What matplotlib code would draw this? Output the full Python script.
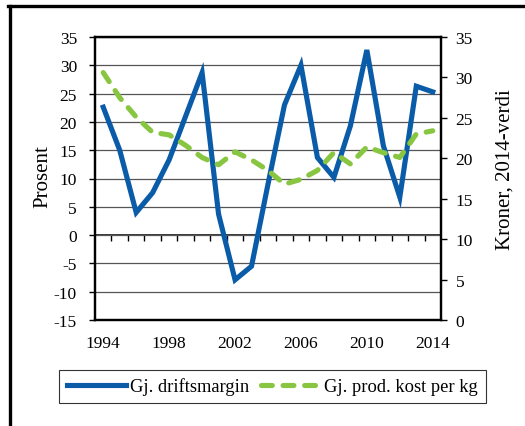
import matplotlib
matplotlib.use("Agg")
import matplotlib.pyplot as plt
from matplotlib.lines import Line2D

# data
years = list(range(1994, 2015))
driftsmargin = [22.6, 15.0, 4.0, 7.5, 13.3, 21.0, 28.7, 3.7, -7.9, -5.5, 9.0,
                23.0, 30.0, 13.7, 10.2, 19.3, 32.7, 15.8, 6.7, 26.3, 25.3]
prodkost = [30.6, 27.5, 25.1, 23.2, 22.9, 21.6, 20.1, 19.2, 20.8, 19.8, 18.5,
            16.8, 17.4, 18.5, 20.7, 19.3, 21.4, 20.7, 20.1, 23.0, 23.4]
year_labels = ["1994", "1998", "2002", "2006", "2010", "2014"]

blue = "#0A5BA8"
green = "#88C540"
serif = ["Liberation Serif", "DejaVu Serif"]
plt.rcParams["font.family"] = serif
plt.rcParams["axes.unicode_minus"] = False

fig = plt.figure(figsize=(5.25, 4.27), dpi=100)
ax = fig.add_axes([95 / 525, 1 - 321 / 427, 346 / 525, 283 / 427])
ax2 = ax.twinx()

x = list(range(len(years)))
ax.plot(x, driftsmargin, color=blue, lw=3.7, solid_joinstyle="miter",
        label="Gj. driftsmargin", zorder=3)
ax2.plot(x, prodkost, color=green, lw=3.7, dashes=(2.1, 2.1),
         dash_capstyle="round", label="Gj. prod. kost per kg", zorder=3)

ax.set_xlim(-0.5, len(years) - 0.5)
ax.set_ylim(-15, 35)
ax.set_yticks(range(-15, 36, 5))
ax2.set_ylim(0, 35)
ax2.set_yticks(range(0, 36, 5))

ax.yaxis.grid(True, color="#555555", lw=0.9)
ax.set_axisbelow(True)

# year labels at the bottom, no tick marks
ax.set_xticks([years.index(int(y)) for y in year_labels])
ax.set_xticklabels(year_labels)
ax.tick_params(axis="x", length=0, pad=11, labelsize=12.5)
ax.tick_params(axis="y", direction="out", length=4.5, width=1, pad=8.5,
               labelsize=12.5)
ax2.tick_params(axis="y", direction="out", length=4.5, width=1, pad=6,
                labelsize=12.5)

# category axis crossing at zero with tick marks between years
sec = ax.secondary_xaxis(15 / 50)
sec.set_xticks([i + 0.5 for i in x[:-1]])
sec.set_xticklabels([])
sec.tick_params(direction="out", length=4, width=1)
sec.spines["bottom"].set_linewidth(1.1)

for a in (ax, ax2):
    for s in a.spines.values():
        s.set_linewidth(1.6)
        s.set_color("black")

ax.set_ylabel("Prosent", fontsize=15, va="center")
ax.yaxis.set_label_coords(-0.152, 0.51)
ax2.set_ylabel("Kroner, 2014-verdi", fontsize=15, va="center")
ax2.yaxis.set_label_coords(1.185, 0.534)

h1, l1 = ax.get_legend_handles_labels()
h2, l2 = ax2.get_legend_handles_labels()
leg = fig.legend(h1 + h2, l1 + l2, loc="center", bbox_to_anchor=(0.519, 0.0925),
                 ncol=2, fontsize=13.3, frameon=True, fancybox=False,
                 edgecolor="black", handlelength=3.2, handletextpad=0.25,
                 columnspacing=0.6, borderpad=0.42)
leg.get_frame().set_linewidth(0.8)

# outer frame of the cropped figure box
fig.add_artist(Line2D([9.5 / 525, 9.5 / 525], [0, 1 - 7 / 427],
                      transform=fig.transFigure, color="black", lw=2.4))
fig.add_artist(Line2D([8.3 / 525, 1], [1 - 7 / 427, 1 - 7 / 427],
                      transform=fig.transFigure, color="black", lw=2.4))

fig.savefig("out.png", dpi=100)
